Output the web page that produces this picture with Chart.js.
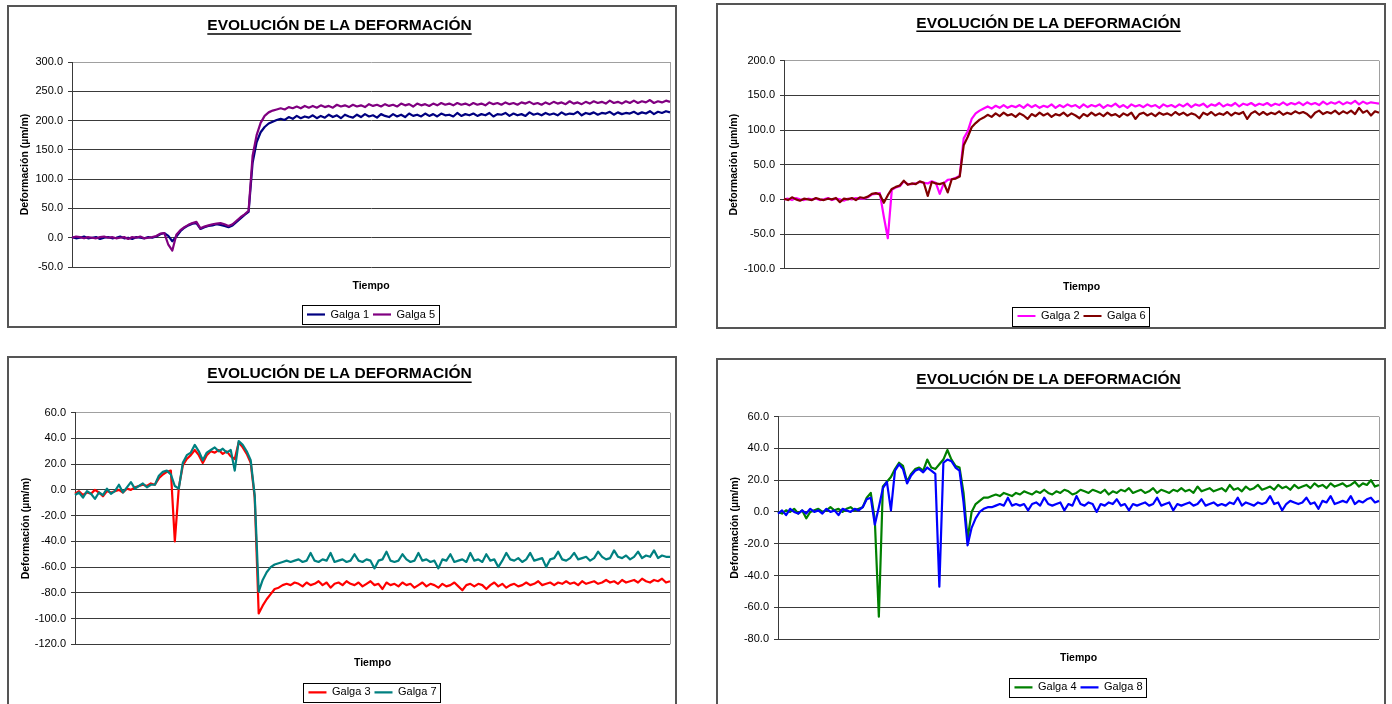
<!DOCTYPE html>
<html>
<head>
<meta charset="utf-8">
<script src="https://cdn.jsdelivr.net/npm/chart.js@4.4.0/dist/chart.umd.min.js"></script>
<style>
  html, body { margin: 0; padding: 0; background: #ffffff; }
  body { width: 1392px; height: 704px; overflow: hidden; position: relative; }
  .frame { position: absolute; box-sizing: border-box; border: 2px solid #555555; background: #ffffff; }
  .frame canvas { display: block; }
</style>
</head>
<body>
<div class="frame" style="left:7px;top:5px;width:670px;height:323px"><canvas id="c1" width="666" height="319"></canvas></div>
<div class="frame" style="left:716px;top:3px;width:670px;height:326px"><canvas id="c2" width="666" height="322"></canvas></div>
<div class="frame" style="left:7px;top:356px;width:670px;height:352px"><canvas id="c3" width="666" height="348"></canvas></div>
<div class="frame" style="left:716px;top:358px;width:670px;height:350px"><canvas id="c4" width="666" height="346"></canvas></div>
<script>
// Strain readings (µm/m), one sample per time step.
const galga1 = [
  1, -1, 0, 2, -1, 0, 1, -2, 0, 1,
  -1, 0, 2, -1, 0, -2, 1, 0, -1, 1,
  0, 2, 6, 8, 3, -6, 2, 11, 17, 21,
  24, 25, 15, 18, 20, 21, 23, 22, 20, 18,
  21, 27, 33, 39, 44, 128, 163, 180, 189, 195,
  198, 201, 203, 201, 206, 203, 208, 204, 207, 205,
  209, 204, 208, 205, 210, 206, 209, 204, 210, 207,
  205, 210, 206, 211, 207, 209, 205, 211, 208, 206,
  211, 207, 210, 206, 212, 208, 210, 207, 212, 208,
  211, 207, 212, 209, 210, 207, 213, 208, 211, 209,
  212, 208, 211, 209, 213, 207, 211, 210, 213, 208,
  212, 209, 211, 208, 214, 210, 212, 209, 213, 210,
  212, 209, 214, 210, 212, 211, 215, 209, 213, 211,
  214, 210, 213, 212, 215, 210, 214, 211, 213, 212,
  215, 211, 214, 212, 216, 211, 215, 213, 216, 214
];
const galga5 = [
  0, 2, 1, -1, 1, 0, -1, 1, 2, 0,
  1, -1, 0, 1, -2, 1, 0, 2, -1, 0,
  1, 3, 7, 8, -12, -22, 5, 13, 18, 22,
  25, 27, 16, 19, 21, 23, 24, 25, 23, 20,
  23, 29, 35, 40, 46, 140, 175, 196, 208, 214,
  217, 219, 221, 219, 223, 221, 224, 221, 225, 222,
  225, 222, 226, 223, 225, 222, 227, 224, 226, 223,
  227, 224, 226, 223, 228, 225, 227, 224, 228, 225,
  227, 224, 229, 226, 228, 224, 229, 226, 228, 225,
  229, 226, 230, 227, 229, 226, 230, 227, 229, 226,
  230, 227, 229, 226, 231, 228, 230, 227, 231, 228,
  230, 227, 231, 229, 232, 228, 230, 227, 231, 228,
  232, 229, 231, 228, 233, 229, 231, 228, 232, 229,
  233, 230, 232, 229, 234, 230, 232, 229, 233, 230,
  234, 230, 233, 231, 235, 230, 233, 231, 234, 232
];
const galga2 = [
  0, 1, -1, 2, 0, -1, 1, 0, 1, -1,
  0, 2, -1, 1, 0, -2, 1, 0, 2, 1,
  1, 3, 7, 8, 9, -25, -56, 14, 17, 19,
  26, 22, 22, 23, 25, 24, 23, 26, 24, 8,
  23, 28, 29, 31, 34, 88, 98, 116, 124, 128,
  131, 134, 131, 135, 132, 136, 132, 135, 133, 136,
  132, 137, 133, 136, 132, 135, 133, 137, 132, 136,
  133, 137, 134, 136, 132, 137, 133, 136, 134, 137,
  132, 136, 134, 138, 133, 136, 132, 137, 134, 136,
  133, 137, 134, 136, 132, 137, 134, 136, 133, 137,
  134, 138, 133, 137, 135, 138, 133, 137, 135, 139,
  134, 137, 135, 139, 134, 138, 136, 139, 135, 138,
  136, 139, 135, 138, 136, 140, 136, 139, 137, 140,
  136, 140, 137, 139, 136, 141, 137, 140, 138, 141,
  137, 140, 138, 142, 137, 141, 138, 140, 139, 138
];
const galga6 = [
  1, -1, 3, 0, -2, 1, 0, -1, 2, 0,
  -1, 1, 0, 2, -4, 1, 0, 2, -1, 3,
  2, 4, 8, 9, 7, -5, 6, 15, 18, 20,
  27, 21, 23, 22, 26, 24, 5, 25, 23, 22,
  24, 10, 29, 30, 33, 78, 90, 104, 110, 115,
  118, 122, 119, 124, 120, 125, 121, 123, 119, 124,
  121, 116, 123, 120, 125, 121, 124, 119, 123, 121,
  125, 120, 124, 121, 117, 123, 120, 125, 121, 124,
  120, 125, 121, 123, 119, 124, 121, 125, 116, 123,
  125, 121, 124, 120, 125, 122, 124, 121, 126, 122,
  125, 121, 124, 122, 117, 125, 122, 126, 121, 124,
  122, 126, 121, 125, 123, 126, 116, 124, 127, 122,
  126, 122, 125, 123, 127, 122, 125, 123, 127, 124,
  126, 123, 118, 125, 128, 123, 126, 124, 128, 123,
  127, 124, 128, 123, 132, 125, 128, 121, 127, 125
];
const galga3 = [
  -3, -1, -4, -2, -3, 0, -2, -5, -1, -2,
  -1, 0, -2, 1, 0, 2, 3, 4, 3, 5,
  4, 9, 12, 14, 15, -40, 2, 19, 24, 27,
  31, 27, 21, 27, 30, 29, 31, 28, 30, 26,
  24, 37, 33, 28, 21, -6, -96, -90, -85, -81,
  -77, -76, -74, -73, -74, -72, -73, -75, -72, -74,
  -73, -71, -74, -72, -76, -73, -72, -74, -71, -73,
  -74, -72, -75, -73, -71, -74, -73, -77, -72, -74,
  -73, -75, -72, -74, -73, -76, -74, -72, -75, -73,
  -74, -76, -73, -75, -74, -72, -75, -78, -74, -73,
  -75, -73, -74, -77, -74, -72, -75, -73, -76, -74,
  -73, -75, -74, -72, -74, -73, -71, -74, -73, -72,
  -74, -72, -73, -71, -73, -72, -74, -71, -73, -72,
  -71, -73, -72, -70, -72, -71, -73, -70, -72, -71,
  -70, -72, -69, -71, -72, -70, -71, -69, -72, -71
];
const galga7 = [
  -4, -2, -6, -1, -3, -7, -2, -4, 1, -3,
  -1, 4, -2, 2, 6, 1, 3, 5, 2, 4,
  4, 11, 14, 15, 12, 3, 1, 21, 27, 29,
  35, 30, 23, 29, 31, 33, 30, 32, 29, 31,
  15, 38, 35, 30, 23, -4, -79, -70, -64, -60,
  -58, -57, -56, -55, -56, -55, -54, -56, -55, -49,
  -55, -56, -54, -55, -49, -56, -55, -54, -56, -55,
  -50, -55, -56, -54, -55, -61, -55, -54, -48, -55,
  -56, -55, -50, -54, -56, -55, -49, -55, -54, -56,
  -55, -61, -54, -55, -50, -56, -55, -54, -56, -49,
  -55, -54, -56, -50, -55, -54, -60, -55, -49, -54,
  -55, -53, -56, -54, -49, -55, -54, -53, -60, -54,
  -53, -48, -54, -55, -53, -49, -54, -53, -52, -55,
  -53, -48, -52, -54, -53, -47, -52, -53, -51, -54,
  -52, -48, -53, -51, -52, -47, -53, -51, -52, -52
];
const galga4 = [
  0, -1, 1, 0, 2, -1, 1, -4, 0, 1,
  2, 0, 1, 3, 1, 2, 0, 2, 3, 1,
  2, 3, 9, 12, -5, -66, 16, 19, 22, 27,
  31, 29, 19, 24, 27, 28, 26, 33, 28, 27,
  30, 33, 39, 33, 29, 28, 12, -17, 0, 5,
  7, 9, 9, 10, 11, 10, 12, 11, 10, 12,
  11, 13, 12, 11, 13, 12, 14, 12, 11, 13,
  12, 14, 13, 11, 12, 14, 13, 12, 14, 13,
  12, 14, 11, 13, 12, 14, 13, 15, 12, 13,
  14, 12, 13, 15, 12, 14, 13, 12, 14, 13,
  15, 13, 14, 12, 16, 13, 14, 15, 13, 14,
  15, 13, 17, 14, 15, 13, 16, 14, 15, 17,
  14, 15, 16, 14, 17, 15, 16, 14, 17, 15,
  16, 17, 15, 18, 16, 17, 15, 18, 16, 17,
  18, 16, 17, 19, 16, 18, 17, 20, 16, 17
];
const galga8 = [
  -1, 1, -2, 2, 0, -1, 1, -1, 2, 0,
  1, -1, 2, 0, 1, -2, 2, 1, 0, 2,
  1, 3, 8, 9, -8, 3, 15, 19, 1, 26,
  30, 27, 18, 23, 26, 27, 25, 28, 26, 24,
  -47, 31, 33, 32, 28, 26, 6, -21, -10, -4,
  0, 2, 3, 3, 4, 5, 4, 9, 4, 5,
  4, 5, 1, 5, 6, 4, 9, 5, 4, 5,
  6, 1, 5, 4, 10, 5, 4, 6, 5, 0,
  5, 4, 6, 5, 8, 4, 5, 1, 5, 4,
  5, 6, 4, 5, 9, 4, 5, 6, 1, 5,
  4, 5, 6, 4, 5, 8, 4, 5, 6, 4,
  5, 4, 6, 5, 9, 4, 6, 5, 4, 6,
  5, 6, 10, 5, 6, 1, 5, 7, 6, 5,
  6, 9, 5, 6, 2, 7, 6, 10, 5, 6,
  7, 6, 10, 5, 7, 6, 8, 9, 6, 7
];

// Y-axis ranges per chart: [min, max, step]
const rango1 = [-50, 300, 50];
const rango2 = [-100, 200, 50];
const rango3 = [-120, 60, 20];
const rango4 = [-80, 60, 20];

const TITULO = 'EVOLUCIÓN DE LA DEFORMACIÓN';
const EJE_Y = 'Deformación (µm/m)';
const EJE_X = 'Tiempo';

Chart.defaults.font.family = '"Liberation Sans", Arial, Helvetica, sans-serif';
Chart.defaults.color = '#000000';

const TITLE_SIZE = 15.5;
const AXIS_TITLE_SIZE = 10.5;
const LEGEND_SIZE = 11;

// Underline under the chart title, the gray right edge of the plot and the legend box.
const decorations = {
  id: 'decorations',
  beforeDatasetsDraw(chart) {
    const { ctx, chartArea: a } = chart;
    ctx.save();
    ctx.strokeStyle = '#a0a0a0';
    ctx.lineWidth = 1;
    ctx.beginPath();
    ctx.moveTo(a.right + 0.5, a.top);
    ctx.lineTo(a.right + 0.5, a.bottom);
    ctx.stroke();
    ctx.restore();
  },
  afterDraw(chart) {
    const { ctx } = chart;
    const tb = chart.titleBlock;
    if (tb) {
      const o = tb.options;
      ctx.save();
      ctx.font = `bold ${TITLE_SIZE}px ${Chart.defaults.font.family}`;
      const w = ctx.measureText(o.text).width;
      const cx = (tb.left + tb.right) / 2;
      const y = tb.top + o.padding.top + TITLE_SIZE * 1.2 / 2 + 8;
      ctx.strokeStyle = '#000000';
      ctx.lineWidth = 1.5;
      ctx.beginPath();
      ctx.moveTo(cx - w / 2, y);
      ctx.lineTo(cx + w / 2, y);
      ctx.stroke();
      ctx.restore();
    }
    const lg = chart.legend;
    if (lg && lg.legendHitBoxes && lg.legendHitBoxes.length) {
      const hb = lg.legendHitBoxes;
      const l = Math.min(...hb.map(h => h.left)) - 5;
      const r = Math.max(...hb.map(h => h.left + h.width)) + 4;
      const t = Math.min(...hb.map(h => h.top)) - 4;
      const b = Math.max(...hb.map(h => h.top + h.height)) + 4;
      ctx.save();
      ctx.strokeStyle = '#000000';
      ctx.lineWidth = 1;
      ctx.strokeRect(Math.round(l) + 0.5, Math.round(t) + 0.5, Math.round(r - l), Math.round(b - t));
      ctx.restore();
    }
  }
};

function dibujar(id, series, rango, caja) {
  const canvas = document.getElementById(id);
  const H = canvas.height;
  const [min, max, step] = rango;
  const legendTop = caja.legendY - 9.5;
  const padBottom = H - (legendTop + 20);
  const xAxisH = legendTop - caja.plotBottom;
  const labels = series[0][1].map((_, i) => i);

  new Chart(canvas, {
    type: 'line',
    data: {
      labels,
      datasets: series.map(([nombre, valores, color], k) => ({
        label: nombre,
        data: valores,
        borderColor: color,
        backgroundColor: color,
        borderWidth: 2.2,
        pointRadius: 0,
        tension: 0,
        borderJoinStyle: 'round',
        order: series.length - k
      }))
    },
    options: {
      responsive: false,
      animation: false,
      events: [],
      layout: { padding: { left: 0, right: 5, top: 0, bottom: padBottom } },
      plugins: {
        tooltip: { enabled: false },
        title: {
          display: true,
          text: TITULO,
          color: '#000000',
          font: { size: TITLE_SIZE, weight: 'bold' },
          padding: { top: caja.titleY - TITLE_SIZE * 0.6, bottom: caja.plotTop - caja.titleY - TITLE_SIZE * 0.6 }
        },
        legend: {
          display: true,
          position: 'bottom',
          fullSize: false,
          maxHeight: 20,
          labels: {
            usePointStyle: true,
            pointStyle: 'line',
            pointStyleWidth: 18,
            padding: 4,
            color: '#000000',
            font: { size: LEGEND_SIZE },
            sort: (a, b) => a.datasetIndex - b.datasetIndex
          }
        }
      },
      scales: {
        x: {
          type: 'category',
          ticks: { display: false },
          grid: { display: false, drawTicks: false },
          border: { display: false },
          title: {
            display: true,
            text: EJE_X,
            color: '#000000',
            font: { size: AXIS_TITLE_SIZE, weight: 'bold' },
            padding: { top: 0, bottom: legendTop - AXIS_TITLE_SIZE * 0.6 - caja.tiempoY }
          },
          afterFit: s => { s.height = xAxisH; }
        },
        y: {
          min, max,
          ticks: {
            stepSize: step,
            padding: 5,
            color: '#000000',
            font: { size: 11 },
            callback: v => Number(v).toFixed(1)
          },
          grid: {
            color: c => (c.tick && c.tick.value === max) ? '#a0a0a0' : '#3a3a3a',
            lineWidth: 1,
            tickLength: 4,
            tickColor: '#3a3a3a'
          },
          border: { display: true, color: '#3a3a3a', width: 1 },
          title: {
            display: true,
            text: EJE_Y,
            color: '#000000',
            font: { size: AXIS_TITLE_SIZE, weight: 'bold' },
            padding: { top: caja.axisTitleX - AXIS_TITLE_SIZE * 0.6, bottom: 0 }
          },
          afterFit: s => { s.width = caja.plotLeft; }
        }
      }
    },
    plugins: [decorations]
  });
}

dibujar('c1', [['Galga 1', galga1, '#000080'], ['Galga 5', galga5, '#800080']], rango1,
  { plotLeft: 63, plotTop: 55, plotBottom: 260, titleY: 18.9, tiempoY: 278.7, legendY: 307.5, axisTitleX: 16.6 });
dibujar('c2', [['Galga 2', galga2, '#ff00ff'], ['Galga 6', galga6, '#800000']], rango2,
  { plotLeft: 66, plotTop: 55.7, plotBottom: 263.7, titleY: 18.3, tiempoY: 282.3, legendY: 311, axisTitleX: 16.5 });
dibujar('c3', [['Galga 3', galga3, '#ff0000'], ['Galga 7', galga7, '#008080']], rango3,
  { plotLeft: 66, plotTop: 54.7, plotBottom: 286.3, titleY: 16.2, tiempoY: 305.3, legendY: 334.3, axisTitleX: 17.3 });
dibujar('c4', [['Galga 4', galga4, '#008000'], ['Galga 8', galga8, '#0000ff']], rango4,
  { plotLeft: 60, plotTop: 56.7, plotBottom: 279, titleY: 20, tiempoY: 298.3, legendY: 327.3, axisTitleX: 17 });
</script>
</body>
</html>
